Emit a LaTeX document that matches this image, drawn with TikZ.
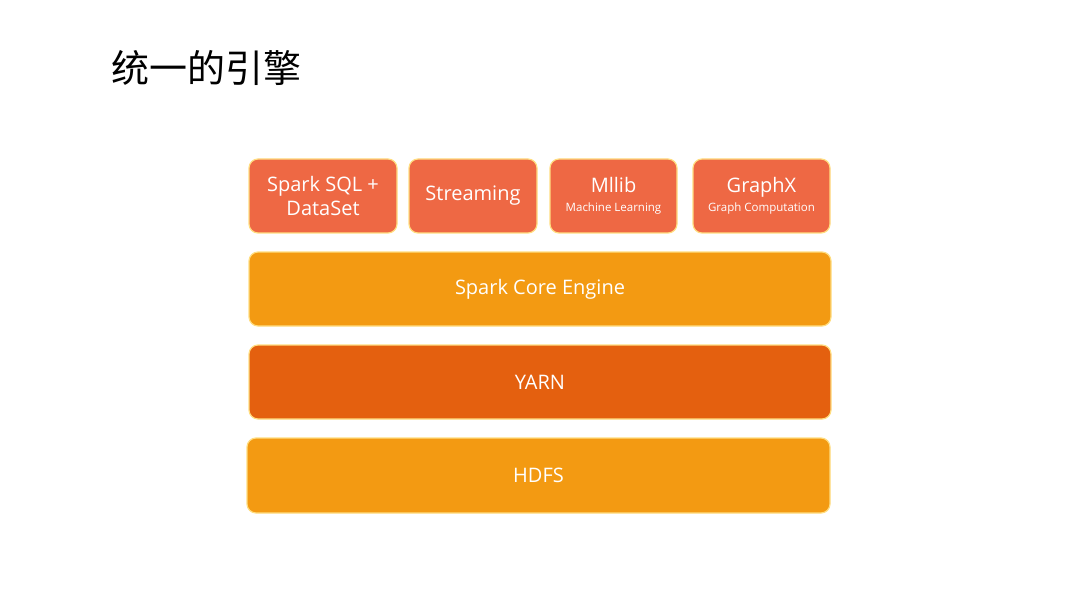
\documentclass[tikz,border=0pt]{standalone}
\usepackage{fontspec}
\setmainfont{Open Sans}
\newfontfamily\cjk{Noto Sans CJK SC}
\usepackage{tikz}

\definecolor{modcol}{HTML}{EE6844}
\definecolor{corecol}{HTML}{F39A12}
\definecolor{yarncol}{HTML}{E4600F}
\definecolor{edgecol}{HTML}{FFDD80}
\newcommand{\subtext}[1]{{\fontsize{11.5}{13}\selectfont #1}}

\begin{document}
\begin{tikzpicture}[x=1pt,y=-1pt,
    layer/.style={draw=edgecol, line width=1.2pt, rounded corners=9pt, text=white,
        inner sep=0pt, align=center, font=\fontsize{20}{24}\selectfont}]

            \useasboundingbox (0,0) rectangle (1080,607);

            % Title
            \node[anchor=west, inner sep=0pt] (title) at (111,68) {\cjk\fontsize{38}{44}\selectfont 统一的引擎};

            % Libraries on top
            \node[layer, fill=modcol, minimum width=148, minimum height=74] (sql) at (323,196) {Spark SQL +\\DataSet};
            \node[layer, fill=modcol, minimum width=128, minimum height=74] (streaming) at (473,196) {Streaming};
            \node[layer, fill=modcol, minimum width=127, minimum height=74] (mllib) at (613.5,196) {Mllib\\[-5pt]\subtext{Machine Learning}};
            \node[layer, fill=modcol, minimum width=137, minimum height=74] (graphx) at (761.5,196) {GraphX\\[-5pt]\subtext{Graph Computation}};

            % Core, scheduler, storage
            \node[layer, fill=corecol, minimum width=582, minimum height=74] (core) at (540,289) {Spark Core Engine};
            \node[layer, fill=yarncol, minimum width=582, minimum height=74] (yarn) at (540,382) {YARN};
            \node[layer, fill=corecol, minimum width=583, minimum height=75] (hdfs) at (538.5,475.5) {HDFS};

\end{tikzpicture}
\end{document}
